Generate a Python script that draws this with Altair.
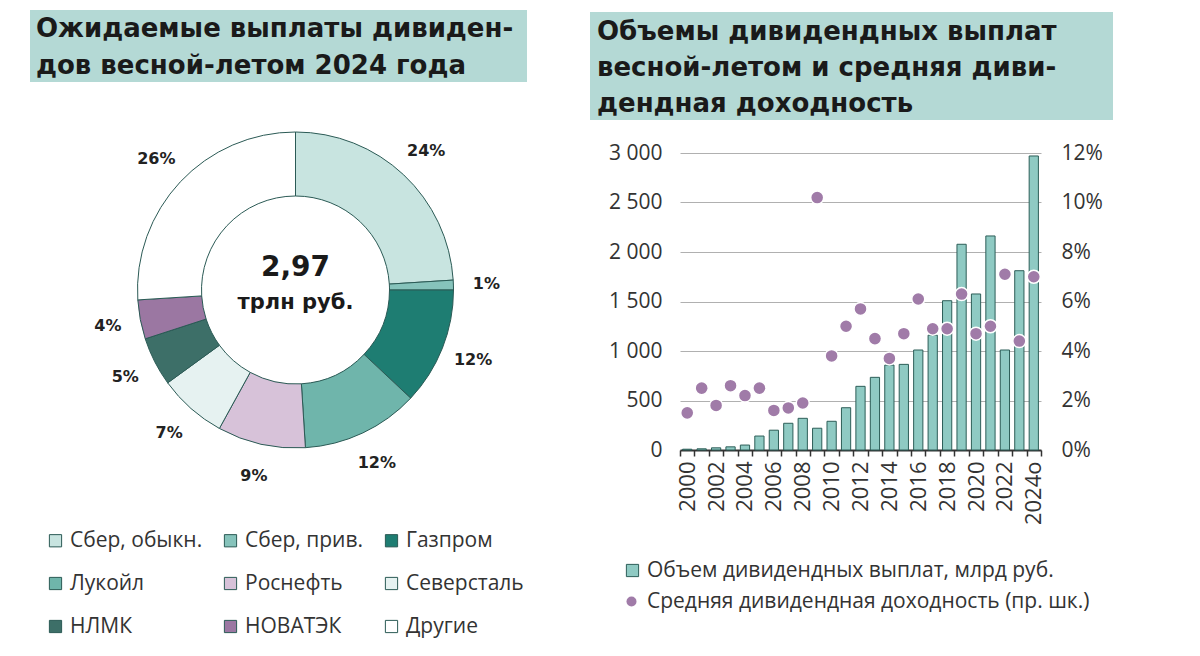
import altair as alt
import pandas as pd

# ---------------- data ----------------
companies = ["Сбер, обыкн.", "Сбер, прив.", "Газпром", "Лукойл", "Роснефть",
             "Северсталь", "НЛМК", "НОВАТЭК", "Другие"]
shares = [24, 1, 12, 12, 9, 7, 5, 4, 26]
company_colors = ["#c8e4e0", "#86c3bb", "#1e7d72", "#6fb5ab", "#d7c2d9",
                  "#e6f2f1", "#3d6f68", "#9b77a2", "#ffffff"]

years = ["2000", "2001", "2002", "2003", "2004", "2005", "2006", "2007", "2008",
         "2009", "2010", "2011", "2012", "2013", "2014", "2015", "2016", "2017",
         "2018", "2019", "2020", "2021", "2022", "2023", "2024о"]
volumes = [8, 12, 22, 32, 50, 141, 200, 270, 320, 220, 290, 427, 643, 734, 858,
           865, 1010, 1160, 1508, 2078, 1576, 2162, 1010, 1811, 2970]
yields = [1.5, 2.5, 1.8, 2.6, 2.2, 2.5, 1.6, 1.7, 1.9, 10.2, 3.8, 5.0, 5.7, 4.5,
          3.7, 4.7, 6.1, 4.9, 4.9, 6.3, 4.7, 5.0, 7.1, 4.4, 7.0]

bar_label = "Объем дивидендных выплат, млрд руб."
dot_label = "Средняя дивидендная доходность (пр. шк.)"
title_left = "Ожидаемые выплаты дивиден-\nдов весной-летом 2024 года"
title_right = "Объемы дивидендных выплат\nвесной-летом и средняя диви-\nдендная доходность"
center_big = "2,97"
center_small = "трлн руб."

# ---------------- layout (page px -> view px) ----------------
OX, OY = 680, 153          # page position of the bar plot origin
W, H = 361, 297

def vx(x):
    return x - OX

def vy(y):
    return y - OY

pie_df = pd.DataFrame({"company": companies, "share": shares,
                       "idx": list(range(len(companies)))})
bar_df = pd.DataFrame({"year": years, "volume": volumes, "yld": yields,
                       "s1": bar_label, "s2": dot_label})

BOX = "#b4d9d5"
FONT_B = "DejaVu Sans"
FONT_R = "Open Sans"
TXT = "#333333"

dummy = alt.Data(values=[{"a": 1}])

box_left = alt.Chart(dummy).mark_rect(color=BOX).encode(
    x=alt.value(vx(30)), x2=alt.value(vx(527)),
    y=alt.value(vy(10)), y2=alt.value(vy(82)))
box_right = alt.Chart(dummy).mark_rect(color=BOX).encode(
    x=alt.value(vx(590)), x2=alt.value(vx(1113)),
    y=alt.value(vy(12)), y2=alt.value(vy(120)))

t_left = alt.Chart(dummy).mark_text(
    align="left", baseline="middle", font=FONT_B, fontWeight="bold",
    fontSize=26, color="#1a1a1a", lineBreak="\n", lineHeight=37
).encode(x=alt.value(vx(36)), y=alt.value(vy(29)), text=alt.value(title_left))

t_right = alt.Chart(dummy).mark_text(
    align="left", baseline="middle", font=FONT_B, fontWeight="bold",
    fontSize=26, color="#1a1a1a", lineBreak="\n", lineHeight=36
).encode(x=alt.value(vx(597)), y=alt.value(vy(32)), text=alt.value(title_right))

CX, CY = vx(295.5), vy(290)

arcs = alt.Chart(pie_df).mark_arc(
    innerRadius=94, outerRadius=158, stroke="#2b5a55", strokeWidth=1
).encode(
    theta=alt.Theta("share:Q", stack=True),
    order=alt.Order("idx:Q"),
    color=alt.Color("company:N",
                    scale=alt.Scale(domain=companies, range=company_colors),
                    legend=alt.Legend(orient="none", legendX=vx(45), legendY=vy(530),
                                      direction="horizontal",
                                      columns=3, title=None, symbolType="square",
                                      symbolSize=150, symbolStrokeColor="#2b5a55",
                                      symbolStrokeWidth=1, labelFont=FONT_R,
                                      labelFontSize=21, labelColor=TXT,
                                      columnPadding=17, rowPadding=21,
                                      labelLimit=400, labelOffset=4)),
    x=alt.value(CX), y=alt.value(CY))

pct = alt.Chart(pie_df).transform_calculate(
    lbl="datum.share + '%'"
).mark_text(font=FONT_B, fontWeight="bold", fontSize=16, color="#222222",
            align="center", baseline="middle").encode(
    theta=alt.Theta("share:Q", stack=True),
    order=alt.Order("idx:Q"),
    radius=alt.value(191),
    text="lbl:N",
    x=alt.value(CX), y=alt.value(CY))

c_big = alt.Chart(dummy).mark_text(font=FONT_B, fontWeight="bold", fontSize=28,
                                   color="#1a1a1a", align="center", baseline="middle"
                                   ).encode(x=alt.value(CX), y=alt.value(vy(268)),
                                            text=alt.value(center_big))
c_small = alt.Chart(dummy).mark_text(font=FONT_B, fontWeight="bold", fontSize=21,
                                     color="#1a1a1a", align="center", baseline="middle"
                                     ).encode(x=alt.value(CX), y=alt.value(vy(303)),
                                              text=alt.value(center_small))

xenc = alt.X("year:N", sort=years, title=None,
             scale=alt.Scale(paddingInner=0, paddingOuter=0),
             axis=alt.Axis(tickBand="extent", labelAngle=270, labelFont=FONT_R,
                           labelFontSize=22, labelColor=TXT, domainColor="#333333",
                           domainWidth=2, tickColor="#333333", tickWidth=1.5,
                           tickSize=6, labelPadding=5, grid=False,
                           labelOverlap=False,
                           labelExpr="(toNumber(substring(datum.value,0,4)) % 2 == 0) ? datum.value : ''"))

bars = alt.Chart(bar_df).mark_bar(
    width=alt.RelativeBandSize(0.64), stroke="#2d5e58", strokeWidth=1
).encode(
    x=xenc,
    y=alt.Y("volume:Q", title=None,
            scale=alt.Scale(domain=[0, 3000], nice=False),
            axis=alt.Axis(values=[0, 500, 1000, 1500, 2000, 2500, 3000],
                          orient="left", grid=True, gridColor="#b0b0b0",
                          domain=False, ticks=False, labelFont=FONT_R,
                          labelFontSize=21, labelColor=TXT, labelPadding=18,
                          labelExpr="replace(format(datum.value, ','), ',', ' ')")),
    color=alt.Color("s1:N", scale=alt.Scale(domain=[bar_label], range=["#8fcac3"]),
                    legend=alt.Legend(orient="none", legendX=vx(622), legendY=vy(560),
                                      title=None, symbolType="square", symbolSize=150,
                                      symbolStrokeColor="#2d5e58", symbolStrokeWidth=1,
                                      labelFont=FONT_R, labelFontSize=21,
                                      labelColor=TXT, labelLimit=600, labelOffset=4))
)

dots = alt.Chart(bar_df).mark_circle(
    size=170, opacity=1, stroke="white", strokeWidth=1.5
).encode(
    x=alt.X("year:N", sort=years),
    y=alt.Y("yld:Q", title=None, scale=alt.Scale(domain=[0, 12], nice=False),
            axis=alt.Axis(values=[0, 2, 4, 6, 8, 10, 12], orient="right",
                          grid=False, domain=False, ticks=False, labelFont=FONT_R,
                          labelFontSize=21, labelColor=TXT, labelPadding=20,
                          labelExpr="datum.value + '%'")),
    color=alt.Color("s2:N", scale=alt.Scale(domain=[dot_label], range=["#a07ba8"]),
                    legend=alt.Legend(orient="none", legendX=vx(621), legendY=vy(591),
                                      title=None, symbolType="circle", symbolSize=100,
                                      symbolStrokeWidth=0, labelFont=FONT_R,
                                      labelFontSize=21, labelColor=TXT,
                                      labelLimit=600, labelOffset=5))
)

chart = alt.layer(
    box_left, box_right, t_left, t_right, arcs, pct, c_big, c_small, bars, dots
).resolve_scale(
    y="independent", color="independent"
).properties(
    width=W, height=H,
    autosize=alt.AutoSizeParams(type="none"),
    padding={"left": OX - 8, "top": OY - 8, "right": 1184 - (OX - 8) - W,
             "bottom": 636 - (OY - 8) - H},
    background="white"
).configure_view(stroke=None)

chart.save("out.html", embed_options={"renderer": "svg", "actions": False})
